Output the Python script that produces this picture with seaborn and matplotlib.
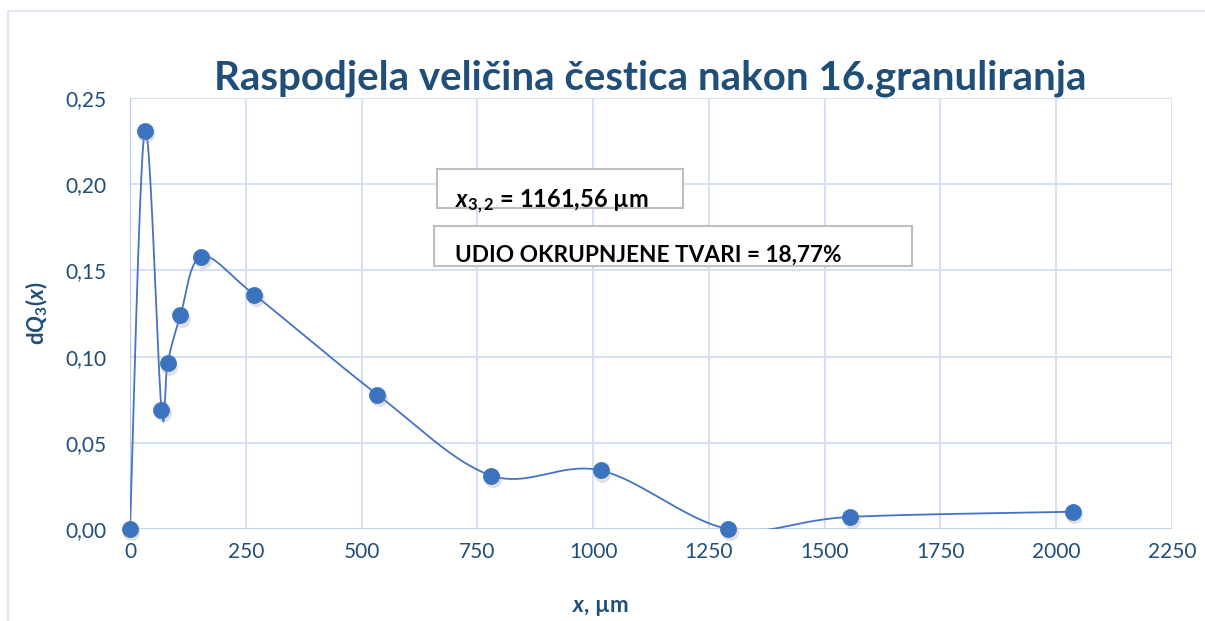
import numpy as np
import pandas as pd
import matplotlib
matplotlib.use("Agg")
import matplotlib.pyplot as plt
import seaborn as sns
from matplotlib.patches import Rectangle

# ---- data ----
x_um = [0, 32, 68, 81, 109, 154, 268, 534, 780, 1016, 1292, 1555, 2036]
dq3 = [0.000, 0.231, 0.069, 0.096, 0.124, 0.158, 0.136, 0.078, 0.031, 0.034, 0.000, 0.007, 0.010]
x_ticks = [0, 250, 500, 750, 1000, 1250, 1500, 1750, 2000, 2250]
y_ticks = [0.00, 0.05, 0.10, 0.15, 0.20, 0.25]
title = "Raspodjela veličina čestica nakon 16.granuliranja"
note1_value = " = 1161,56 µm"
note2 = "UDIO OKRUPNJENE TVARI = 18,77%"

NAVY = "#1F4E79"
LINE = "#4472C4"
MARK = "#3C73BE"
GRID = "#D3E1F4"
AXLINE = "#B7CCEB"

sns.set_theme(style="whitegrid")
plt.rcParams["font.family"] = ["Lato", "DejaVu Sans"]
plt.rcParams["mathtext.fontset"] = "custom"
plt.rcParams["mathtext.rm"] = "Lato"
plt.rcParams["mathtext.it"] = "Lato:italic"
plt.rcParams["mathtext.bf"] = "Lato:bold"
plt.rcParams["mathtext.bfit"] = "Lato:bold:italic"


def smooth_curve(xs, ys, n=40):
    """Excel-like smoothed line: cubic Bezier with Catmull-Rom control points."""
    p = np.column_stack([xs, ys]).astype(float)
    pts = np.vstack([p[0], p, p[-1]])
    out = []
    t = np.linspace(0, 1, n)[:, None]
    for i in range(1, len(pts) - 2):
        p0, p1, p2, p3 = pts[i - 1], pts[i], pts[i + 1], pts[i + 2]
        c1 = p1 + (p2 - p0) / 6.0
        c2 = p2 - (p3 - p1) / 6.0
        seg = ((1 - t) ** 3) * p1 + 3 * ((1 - t) ** 2) * t * c1 + 3 * (1 - t) * t ** 2 * c2 + t ** 3 * p2
        out.append(seg if i == 1 else seg[1:])
    out = np.vstack(out)
    return out[:, 0], out[:, 1]


sx, sy = smooth_curve(x_um, dq3)
curve = pd.DataFrame({"x": sx, "y": sy})
pts = pd.DataFrame({"x": x_um, "y": dq3})

fig = plt.figure(figsize=(12.05, 6.21), dpi=100)
fig.patch.set_facecolor("white")
ax = fig.add_axes([130 / 1205, 1 - 529 / 621, 1042 / 1205, 431 / 621])
ax.set_facecolor("white")

sns.lineplot(data=curve, x="x", y="y", sort=False, estimator=None, ax=ax,
             color=LINE, linewidth=1.3, zorder=3)
# marker shadow
ax.scatter(pts["x"] + 3, pts["y"] - 0.002, s=150, color="#9a9a9a", alpha=0.3,
           linewidths=0, zorder=4)
sns.scatterplot(data=pts, x="x", y="y", ax=ax, s=135, color=MARK,
                edgecolor=MARK, linewidth=0.5, zorder=5)

ax.set_xlim(x_ticks[0], x_ticks[-1])
ax.set_ylim(y_ticks[0], y_ticks[-1])
ax.set_xticks(x_ticks)
ax.set_yticks(y_ticks)
ax.set_xticklabels([str(v) for v in x_ticks])
ax.set_yticklabels([f"{v:.2f}".replace(".", ",") for v in y_ticks])
ax.tick_params(axis="both", labelsize=15, colors=NAVY, length=0)
ax.tick_params(axis="y", pad=17)
ax.tick_params(axis="x", pad=9)
ax.grid(True, color=GRID, linewidth=1.4)
for s in ax.spines.values():
    s.set_visible(False)
ax.axhline(0, color=AXLINE, linewidth=1.8, zorder=2)
ax.axvline(0, color=AXLINE, linewidth=1.6, zorder=2)
for coll in ax.collections:
    coll.set_clip_on(False)

ax.set_xlabel(r"$\mathbfit{x}$, µm", fontsize=16, color=NAVY, fontweight="bold")
ax.xaxis.set_label_coords(0.451, -0.181)
ax.xaxis.label.set_va("center")
ax.set_ylabel(r"d$\mathbfit{Q}_{\mathbf{3}}$($\mathbfit{x}$)", fontsize=16, color=NAVY,
              fontweight="bold")
ax.yaxis.set_label_coords(-0.0893, 0.5)
ax.yaxis.label.set_va("center")

fig.text(650 / 1205, 1 - 78 / 621, title, ha="center", va="center",
         fontsize=29, fontweight="bold", color=NAVY)

# chart area outer border (top and left visible)
fig.add_artist(Rectangle((8 / 1205, -0.05), 1.2, 1 - 11 / 621 + 0.05, transform=fig.transFigure,
                         fill=False, edgecolor="#D9E1EC", linewidth=1.2))

# annotation boxes
fig.add_artist(Rectangle((437 / 1205, 1 - 208 / 621), 246 / 1205, 39 / 621,
                         transform=fig.transFigure, facecolor="white",
                         edgecolor="#BFBFBF", linewidth=1.5, zorder=10))
fig.add_artist(Rectangle((434 / 1205, 1 - 266 / 621), 478 / 1205, 40 / 621,
                         transform=fig.transFigure, facecolor="white",
                         edgecolor="#BFBFBF", linewidth=1.5, zorder=10))
fig.text(455 / 1205, 1 - 207 / 621,
         r"$\mathbfit{x}_{\mathbf{3,2}}$" + note1_value, ha="left", va="baseline",
         fontsize=17, fontweight="bold", color="black", zorder=11)
fig.text(455 / 1205, 1 - 262 / 621, note2, ha="left", va="baseline",
         fontsize=16.3, fontweight="bold", color="black", zorder=11)

fig.savefig("out.png", dpi=100, facecolor="white")
